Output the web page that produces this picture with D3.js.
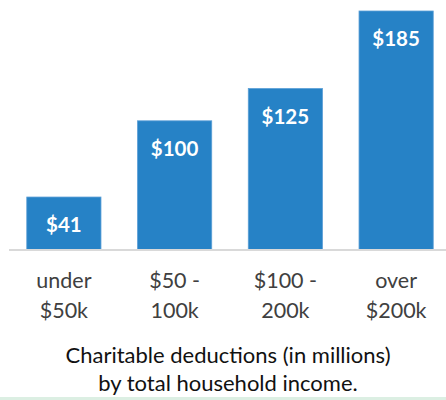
<!DOCTYPE html>
<html>
<head>
<meta charset="utf-8">
<script src="https://cdn.jsdelivr.net/npm/d3@7"></script>
<style>
  body { margin: 0; background: #fff; }
  svg { display: block; }
</style>
</head>
<body>
<svg id="viz"></svg>
<script>
var categories = ['under|$50k', '$50 -|100k', '$100 -|200k', 'over|$200k'];
var values = [41, 100, 125, 185];
var valueLabels = ['$41', '$100', '$125', '$185'];
var titleLines = ['Charitable deductions (in millions)', 'by total household income.'];

var width = 446;
var height = 400;
var baseY = 250;
var font = 'Lato, "Open Sans", sans-serif';

var svg = d3.select('#viz').attr('width', width).attr('height', height);

var x = d3
  .scaleBand()
  .domain(categories)
  .range([8.5, 451.5])
  .paddingInner(0.33)
  .paddingOuter(0.165);

var y = d3.scaleLinear().domain([0, 185]).range([baseY, 11]);

// bars
svg
  .append('g')
  .selectAll('rect')
  .data(values)
  .enter()
  .append('rect')
  .attr('x', (d, i) => x(categories[i]))
  .attr('y', (d) => y(d))
  .attr('width', x.bandwidth())
  .attr('height', (d) => baseY - y(d))
  .attr('fill', '#2682c6')
  .attr('stroke', '#5b9fd6')
  .attr('stroke-width', 0.8);

// value labels inside bars
svg
  .append('g')
  .selectAll('text')
  .data(values)
  .enter()
  .append('text')
  .attr('x', (d, i) => x(categories[i]) + x.bandwidth() / 2)
  .attr('y', (d) => y(d) + 35)
  .attr('text-anchor', 'middle')
  .style('font-family', font)
  .style('font-weight', 'bold')
  .style('font-size', '20.5px')
  .style('fill', '#fff')
  .text((d, i) => valueLabels[i]);

// baseline
svg
  .append('line')
  .attr('x1', 9)
  .attr('x2', width)
  .attr('y1', baseY)
  .attr('y2', baseY)
  .attr('stroke', '#d9d9d9')
  .attr('stroke-width', 2);

// category labels (two lines each)
var cat = svg
  .append('g')
  .selectAll('text')
  .data(categories)
  .enter()
  .append('text')
  .attr('text-anchor', 'middle')
  .style('font-family', font)
  .style('font-size', '21.5px')
  .style('fill', '#404040');

cat
  .selectAll('tspan')
  .data((d) => d.split('|').map((t) => ({ t: t, c: d })))
  .enter()
  .append('tspan')
  .attr('x', (d) => x(d.c) + x.bandwidth() / 2)
  .attr('y', (d, i) => 288 + i * 30)
  .text((d) => d.t);

// title
svg
  .append('g')
  .selectAll('text')
  .data(titleLines)
  .enter()
  .append('text')
  .attr('x', 228)
  .attr('y', (d, i) => 363 + i * 28)
  .attr('text-anchor', 'middle')
  .style('font-family', font)
  .style('font-size', '22px')
  .style('fill', '#111')
  .text((d) => d);

// faint strip at the bottom edge
svg
  .append('rect')
  .attr('x', 0)
  .attr('y', 397)
  .attr('width', width)
  .attr('height', 3)
  .attr('fill', '#dcefe3');
</script>
</body>
</html>
